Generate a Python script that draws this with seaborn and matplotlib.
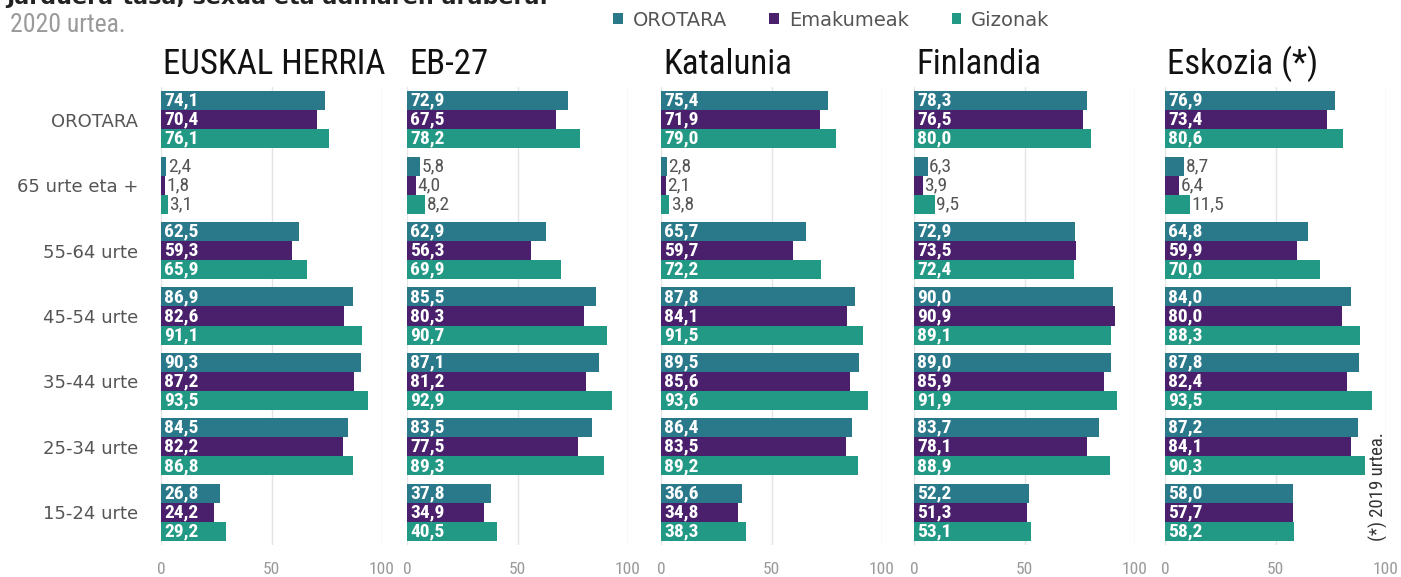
import numpy as np
import pandas as pd
import matplotlib
matplotlib.use("Agg")
import matplotlib.pyplot as plt
import seaborn as sns
from matplotlib import font_manager as fm
from matplotlib.patches import Patch

# ---- data -------------------------------------------------------------
groups = ["OROTARA", "65 urte eta +", "55-64 urte", "45-54 urte",
          "35-44 urte", "25-34 urte", "15-24 urte"]
series = ["OROTARA", "Emakumeak", "Gizonak"]
regions = ["EUSKAL HERRIA", "EB-27", "Katalunia", "Finlandia", "Eskozia (*)"]

eh_orotara = [74.1, 2.4, 62.5, 86.9, 90.3, 84.5, 26.8]
eh_emakumeak = [70.4, 1.8, 59.3, 82.6, 87.2, 82.2, 24.2]
eh_gizonak = [76.1, 3.1, 65.9, 91.1, 93.5, 86.8, 29.2]

eb_orotara = [72.9, 5.8, 62.9, 85.5, 87.1, 83.5, 37.8]
eb_emakumeak = [67.5, 4.0, 56.3, 80.3, 81.2, 77.5, 34.9]
eb_gizonak = [78.2, 8.2, 69.9, 90.7, 92.9, 89.3, 40.5]

kat_orotara = [75.4, 2.8, 65.7, 87.8, 89.5, 86.4, 36.6]
kat_emakumeak = [71.9, 2.1, 59.7, 84.1, 85.6, 83.5, 34.8]
kat_gizonak = [79.0, 3.8, 72.2, 91.5, 93.6, 89.2, 38.3]

fin_orotara = [78.3, 6.3, 72.9, 90.0, 89.0, 83.7, 52.2]
fin_emakumeak = [76.5, 3.9, 73.5, 90.9, 85.9, 78.1, 51.3]
fin_gizonak = [80.0, 9.5, 72.4, 89.1, 91.9, 88.9, 53.1]

esk_orotara = [76.9, 8.7, 64.8, 84.0, 87.8, 87.2, 58.0]
esk_emakumeak = [73.4, 6.4, 59.9, 80.0, 82.4, 84.1, 57.7]
esk_gizonak = [80.6, 11.5, 70.0, 88.3, 93.5, 90.3, 58.2]

panel_values = [
    (eh_orotara, eh_emakumeak, eh_gizonak),
    (eb_orotara, eb_emakumeak, eb_gizonak),
    (kat_orotara, kat_emakumeak, kat_gizonak),
    (fin_orotara, fin_emakumeak, fin_gizonak),
    (esk_orotara, esk_emakumeak, esk_gizonak),
]

colors = {"OROTARA": "#2a798b", "Emakumeak": "#4a1f6c", "Gizonak": "#229985"}

# ---- style ------------------------------------------------------------
sns.set_theme(style="white")
names = {f.name for f in fm.fontManager.ttflist}
if "Roboto Condensed" in names:
    plt.rcParams["font.family"] = ["Roboto Condensed", "DejaVu Sans"]
elif "Liberation Sans Narrow" in names:
    plt.rcParams["font.family"] = ["Liberation Sans Narrow", "DejaVu Sans"]
else:
    plt.rcParams["font.family"] = ["DejaVu Sans"]
    plt.rcParams["font.stretch"] = "condensed"
wide = ["DejaVu Sans"]

W, H = 1401, 577
fig = plt.figure(figsize=(W / 100, H / 100), dpi=100)

def fx(px):
    return px / W

def fy(py):
    return 1 - py / H

panel_left = [161, 407, 661, 914, 1165]
panel_width = 221
ax_top, ax_bottom = 87, 545

for i, (region, vals) in enumerate(zip(regions, panel_values)):
    ax = fig.add_axes([fx(panel_left[i]), fy(ax_bottom),
                       fx(panel_width), (ax_bottom - ax_top) / H])
    df = pd.DataFrame({
        "taldea": groups * 3,
        "serie": np.repeat(series, len(groups)),
        "balioa": np.concatenate(vals),
    })
    sns.barplot(data=df, y="taldea", x="balioa", hue="serie",
                order=groups, hue_order=series, palette=colors,
                orient="h", width=0.875, gap=0, saturation=1,
                errorbar=None, legend=False, ax=ax, zorder=2,
                linewidth=0)

    ax.set_xlim(0, 100)
    ax.set_ylim(6.5, -0.5)
    ax.set_xticks([0, 50, 100])
    ax.grid(axis="x", color="#e4e4e4", linewidth=1.0)
    ax.grid(axis="y", visible=False)
    ax.set_axisbelow(True)
    for s in ax.spines.values():
        s.set_visible(False)
    ax.set_xlabel("")
    ax.set_ylabel("")
    ax.tick_params(axis="x", length=0, pad=12, labelsize=12.5, labelcolor="#999999")
    if i == 0:
        ax.tick_params(axis="y", length=0, pad=16.5, labelsize=13, labelcolor="#555555")
        for lab in ax.get_yticklabels():
            lab.set_family(wide)
    else:
        ax.tick_params(axis="y", length=0, labelleft=False)

    # value labels, taken from the drawn bars
    for cont in ax.containers:
        for p in cont:
            v = p.get_width()
            yc = p.get_y() + p.get_height() / 2
            txt = f"{v:.1f}".replace(".", ",")
            if v >= 15:
                ax.text(1.4, yc, txt, color="white", fontsize=14,
                        fontweight="bold", ha="left", va="center", zorder=3)
            else:
                ax.text(v + 0.6, yc, txt, color="#555555", fontsize=14,
                        ha="left", va="center", zorder=3)

    fig.text(fx(panel_left[i] + 2), fy(74), region, fontsize=25,
             color="#111111", va="baseline", ha="left")

# ---- header -----------------------------------------------------------
fig.text(fx(6), fy(4), "Jarduera-tasa, sexua eta adinaren arabera.",
         fontsize=16, fontweight="bold", color="#222222", va="baseline",
         family=wide)
fig.text(fx(10), fy(32), "2020 urtea.", fontsize=18.5, color="#9a9a9a",
         va="baseline")

handles = [Patch(facecolor=colors[s], edgecolor="none") for s in series]
fig.legend(handles, series, loc="center left",
           bbox_to_anchor=(fx(613), fy(20)), ncol=3, frameon=False,
           prop={"family": wide, "size": 14}, labelcolor="#555555",
           handlelength=0.5, handleheight=0.5, handletextpad=0.5,
           columnspacing=2.2, borderaxespad=0, borderpad=0)

fig.text(fx(1378), fy(487), "(*) 2019 urtea.", rotation=90, fontsize=13.5,
         color="#333333", ha="center", va="center")

fig.savefig("out.png", dpi=100)
